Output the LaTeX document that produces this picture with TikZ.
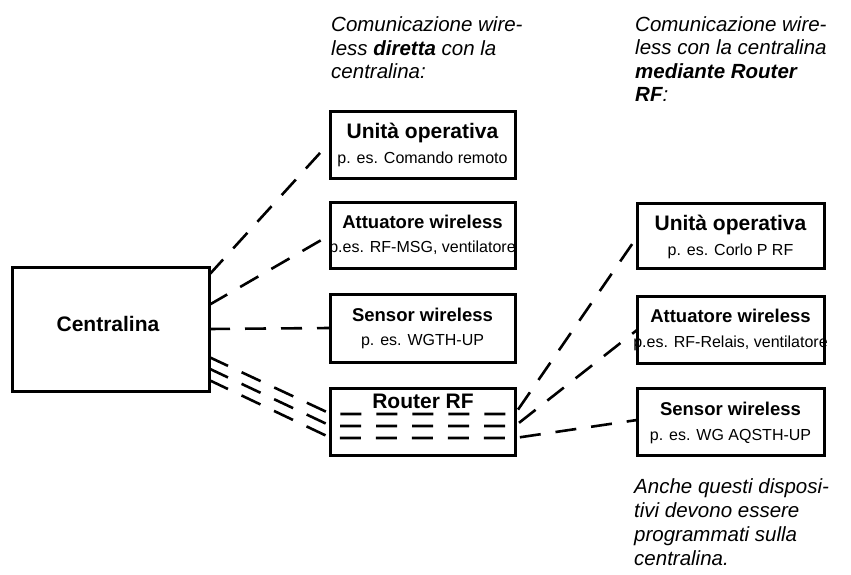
\documentclass[tikz,border=0pt]{standalone}
\usepackage{fontspec}
\setmainfont{Liberation Sans}
\begin{document}
\begin{tikzpicture}[x=1pt,y=-1pt,
  box/.style={draw, line width=3pt, minimum width=185pt, minimum height=66pt, inner sep=0pt, outer sep=0pt},
  wl/.style={line width=2.6pt, dash pattern=on 21pt off 15pt},
  bigt/.style={font=\fontsize{21}{24}\selectfont\bfseries, inner sep=0pt, anchor=base},
  midt/.style={font=\fontsize{18.5}{22}\selectfont\bfseries, inner sep=0pt, anchor=base},
  subt/.style={font=\fontsize{16}{19}\selectfont, inner sep=0pt, anchor=base},
  note/.style={font=\fontsize{20.5}{23.4}\selectfont\itshape, align=left, inner sep=0pt, anchor=base west}]
\useasboundingbox (0,0) rectangle (851,575);

% notes (anchored at the baseline of their last line)
\node[note] (n1) at (331,78.5) {Comunicazione wire-\\less \textbf{diretta} con la\\centralina:};
\node[note] (n2) at (635,101.8) {Comunicazione wire-\\less con la centralina\\\textbf{mediante Router}\\\textbf{RF}:};
\node[note, font=\fontsize{20.5}{24}\selectfont\itshape] (n3) at (634,565) {Anche questi disposi-\\tivi devono essere\\programmati sulla\\centralina.};

% box texts
\node[bigt] (tc) at (108,331.5) {Centralina};
\node[bigt] (t1) at (422.5,139) {Unità operativa};
\node[subt] (s1) at (422.5,163) {p. es. Comando remoto};
\node[midt] (t2) at (422.5,228) {Attuatore wireless};
\node[subt] (s2) at (422.5,252.5) {p.es. RF-MSG, ventilatore};
\node[midt] (t3) at (422.5,321) {Sensor wireless};
\node[subt] (s3) at (422.5,345.5) {p. es. WGTH-UP};
\node[bigt] (tr) at (423,408) {Router RF};
\node[bigt] (t4) at (730.5,230) {Unità operativa};
\node[subt] (s4) at (730.5,255) {p. es. Corlo P RF};
\node[midt] (t5) at (730.5,322) {Attuatore wireless};
\node[subt] (s5) at (730.5,347) {p.es. RF-Relais, ventilatore};
\node[midt] (t6) at (730.5,415) {Sensor wireless};
\node[subt] (s6) at (730.5,440) {p. es. WG AQSTH-UP};

% boxes
\node[box, minimum width=197pt, minimum height=124pt] (c) at (110.5,329) {};
\node[box] (L1) at (422.5,145) {};
\node[box] (L2) at (422.5,235) {};
\node[box, minimum height=68pt] (L3) at (422.5,328) {};
\node[box, minimum height=67pt] (R0) at (423,421.5) {};
\node[box, minimum width=187pt, minimum height=65pt] (R1) at (730.5,235.5) {};
\node[box, minimum width=187pt, minimum height=67pt] (R2) at (730.5,329.5) {};
\node[box, minimum width=187pt, minimum height=67pt] (R3) at (730.5,421.5) {};

% connector points
\coordinate (ca) at (209,275);
\coordinate (cb) at (209,305);
\coordinate (cd) at (209,357);
\coordinate (ce) at (209,368.5);
\coordinate (cf) at (209,380);
\coordinate (l1) at (330,142);
\coordinate (l2) at (330,235);
\coordinate (ra) at (331,414);
\coordinate (rb) at (331,426);
\coordinate (rc) at (331,438);
\coordinate (qa) at (515,414);
\coordinate (qb) at (515,426);
\coordinate (qc) at (515,438);
\coordinate (p1) at (637,237);
\coordinate (p2) at (637,330);
\coordinate (p3) at (637,420);

\draw[wl] (ca) -- (l1);
\draw[wl] (cb) -- (l2);
\draw[wl] (c.east) -- (L3.west);
\draw[wl] (cd) -- (ra) -- (qa) -- (p1);
\draw[wl] (ce) -- (rb) -- (qb) -- (p2);
\draw[wl] (cf) -- (rc) -- (qc) -- (p3);
\end{tikzpicture}
\end{document}
